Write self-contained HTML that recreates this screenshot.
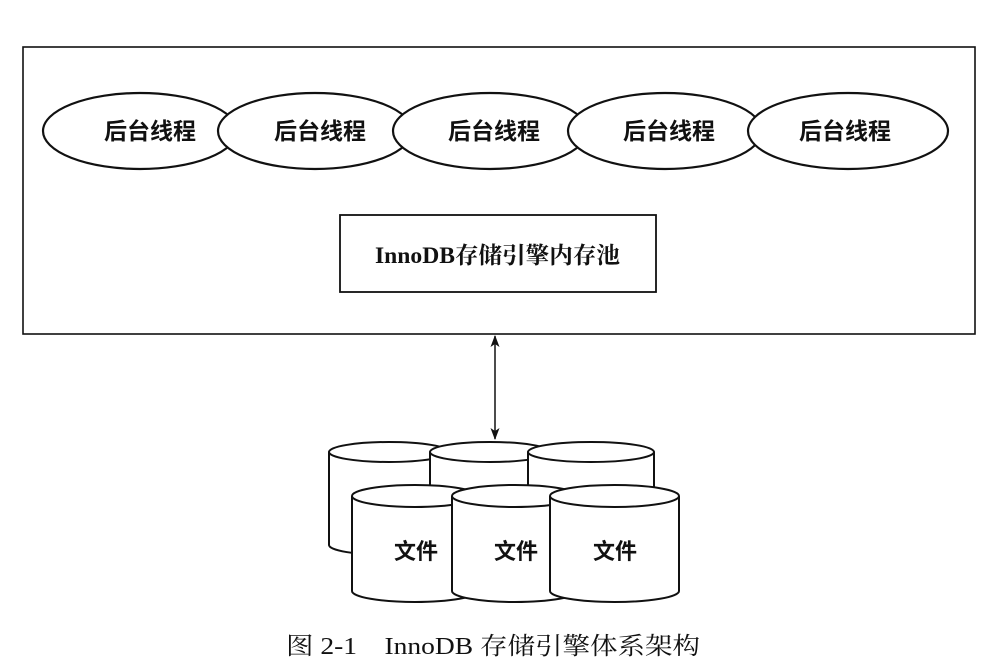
<!DOCTYPE html>
<html><head><meta charset="utf-8"><style>
html,body{margin:0;padding:0;background:#fff;}
svg{display:block}
</style></head><body>
<svg width="984" height="666" viewBox="0 0 984 666" xmlns="http://www.w3.org/2000/svg">
<defs>
<marker id="ah" markerWidth="12" markerHeight="12" refX="11" refY="6" orient="auto-start-reverse" markerUnits="userSpaceOnUse">
<path d="M0,1.5 L12,6 L0,10.5 L3,6 Z" fill="#111"/>
</marker>
</defs>
<rect x="23" y="47" width="952" height="287" fill="#fff" stroke="#111" stroke-width="1.6"/>
<g fill="#fff" stroke="#111" stroke-width="2.2">
<ellipse cx="140" cy="131" rx="97" ry="38"/>
<ellipse cx="315" cy="131" rx="97" ry="38"/>
<ellipse cx="490" cy="131" rx="97" ry="38"/>
<ellipse cx="665" cy="131" rx="97" ry="38"/>
<ellipse cx="848" cy="131" rx="100" ry="38"/>
</g>
<g font-family="'Noto Sans CJK SC', sans-serif" font-weight="bold" font-size="23" fill="#111" text-anchor="middle">
<text x="150" y="139">后台线程</text>
<text x="320" y="139">后台线程</text>
<text x="494" y="139">后台线程</text>
<text x="669" y="139">后台线程</text>
<text x="845" y="139">后台线程</text>
</g>
<rect x="340" y="215" width="316" height="77" fill="#fff" stroke="#111" stroke-width="1.8"/>
<text x="375" y="263" textLength="245" lengthAdjust="spacingAndGlyphs" font-family="'Liberation Serif','Noto Serif CJK SC',serif" font-weight="bold" font-size="23" fill="#111">InnoDB存储引擎内存池</text>
<line x1="495" y1="336" x2="495" y2="439" stroke="#111" stroke-width="1.5" marker-start="url(#ah)" marker-end="url(#ah)"/>
<g fill="#fff" stroke="#111" stroke-width="2">
<path d="M329,452 L329,545 A60,10 0 0 0 449,545 L449,452"/>
<ellipse cx="389" cy="452" rx="60" ry="10"/>
<path d="M430,452 L430,545 A60,10 0 0 0 550,545 L550,452"/>
<ellipse cx="490" cy="452" rx="60" ry="10"/>
<path d="M528,452 L528,545 A63,10 0 0 0 654,545 L654,452"/>
<ellipse cx="591" cy="452" rx="63" ry="10"/>
<path d="M352,496 L352,591 A63,11 0 0 0 478,591 L478,496"/>
<ellipse cx="415" cy="496" rx="63" ry="11"/>
<path d="M452,496 L452,591 A63,11 0 0 0 578,591 L578,496"/>
<ellipse cx="515" cy="496" rx="63" ry="11"/>
<path d="M550,496 L550,591 A64.5,11 0 0 0 679,591 L679,496"/>
<ellipse cx="614.5" cy="496" rx="64.5" ry="11"/>
</g>
<g font-family="'Noto Sans CJK SC', sans-serif" font-weight="bold" font-size="22" fill="#111" text-anchor="middle">
<text x="416" y="559">文件</text>
<text x="516" y="559">文件</text>
<text x="615" y="559">文件</text>
</g>
<text x="286" y="654" textLength="414" lengthAdjust="spacingAndGlyphs" font-family="'Liberation Serif','Noto Serif CJK SC',serif" font-size="24" fill="#111" xml:space="preserve">图 2-1    InnoDB 存储引擎体系架构</text>
</svg>
</body></html>
